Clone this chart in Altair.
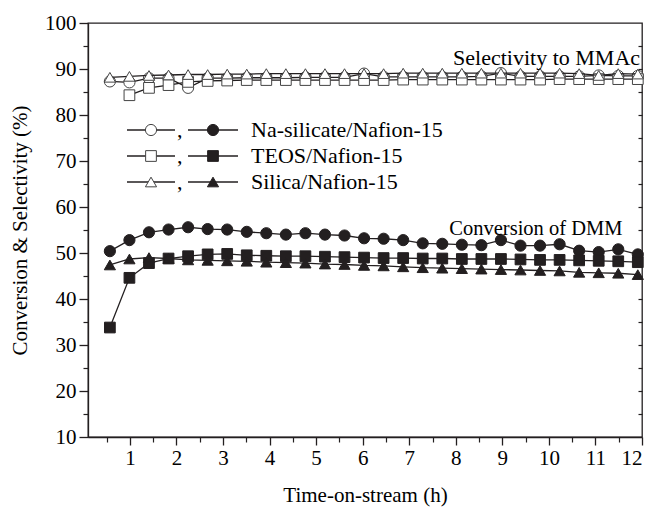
import altair as alt
import pandas as pd

# ---------------- data ----------------
hours = [0.57, 0.99, 1.41, 1.83, 2.25, 2.67, 3.09, 3.51, 3.93, 4.35, 4.77, 5.19,
         5.61, 6.03, 6.45, 6.87, 7.29, 7.71, 8.13, 8.55, 8.97, 9.39, 9.81, 10.23,
         10.65, 11.07, 11.49, 11.91]

na_conv = [50.4, 52.8, 54.5, 55.1, 55.6, 55.2, 55.1, 54.6, 54.3, 54.0, 54.3, 54.0,
           53.8, 53.2, 53.1, 52.8, 52.1, 52.0, 51.8, 51.7, 52.8, 51.6, 51.6, 51.9,
           50.5, 50.2, 50.8, 49.7]
teos_conv = [33.8, 44.6, 47.8, 48.8, 49.3, 49.7, 49.8, 49.5, 49.4, 49.3, 49.3, 49.2,
             49.1, 49.0, 48.9, 48.9, 48.8, 48.8, 48.7, 48.7, 48.7, 48.6, 48.5, 48.5,
             48.4, 48.3, 48.2, 48.0]
silica_conv = [47.4, 48.7, 49.0, 48.8, 48.5, 48.4, 48.3, 48.2, 48.0, 47.9, 47.8, 47.6,
               47.5, 47.3, 47.2, 47.0, 46.8, 46.7, 46.6, 46.5, 46.4, 46.3, 46.2, 46.1,
               45.8, 45.7, 45.6, 45.3]

na_sel = [87.3, 87.1, 88.0, 88.0, 85.9, 88.0, 88.0, 88.1, 88.1, 88.1, 88.2, 88.2,
          88.2, 89.0, 88.3, 88.3, 88.3, 88.3, 88.3, 88.4, 89.1, 88.4, 88.4, 88.4,
          88.4, 88.6, 88.5, 88.5]
teos_sel = [None, 84.3, 85.9, 86.5, 87.2, 87.4, 87.5, 87.6, 87.6, 87.6, 87.6, 87.6,
            87.6, 87.6, 87.6, 87.7, 87.7, 87.7, 87.7, 87.7, 87.7, 87.7, 87.7, 87.8,
            87.8, 87.8, 87.8, 87.8]
silica_sel = [88.2, 88.4, 88.6, 88.7, 88.8, 88.8, 88.9, 88.9, 89.0, 89.0, 89.0, 89.0,
              89.0, 89.0, 89.0, 89.1, 89.1, 89.1, 89.1, 89.1, 89.1, 89.1, 89.1, 89.1,
              89.0, 88.6, 89.0, 88.9]

legend_labels = ["Na-silicate/Nafion-15", "TEOS/Nafion-15", "Silica/Nafion-15"]
annotations = ["Selectivity to MMAc", "Conversion of DMM"]
x_major = list(range(1, 13))
x_minor = [i + 0.5 for i in range(0, 12)]
y_major = list(range(10, 101, 10))
y_minor = list(range(15, 100, 10))
y_right = list(range(15, 100, 5))

# ---------------- style ----------------
W, H = 554, 414
INK = "#231f20"
FONT = "Liberation Serif"
shapes = {"na": "circle", "teos": "square", "silica": "triangle-up"}
sizes = {"circle": 125, "square": 115, "triangle-up": 125}

xs = alt.Scale(domain=[0.1, 12], nice=False, zero=False)
ys = alt.Scale(domain=[10, 100], nice=False, zero=False)

series = [
    ("na", "conv", na_conv, True),
    ("teos", "conv", teos_conv, True),
    ("silica", "conv", silica_conv, True),
    ("na", "sel", na_sel, False),
    ("teos", "sel", teos_sel, False),
    ("silica", "sel", silica_sel, False),
]

layers = []
for key, kind, vals, filled in series:
    df = pd.DataFrame({"t": hours, "v": vals}).dropna()
    base = alt.Chart(df).encode(
        x=alt.X("t:Q", scale=xs, axis=None),
        y=alt.Y("v:Q", scale=ys, axis=None),
    )
    layers.append(base.mark_line(color=INK, strokeWidth=1.3))
    shp = shapes[key]
    layers.append(base.mark_point(
        shape=shp, size=sizes[shp], filled=True, opacity=1,
        fill=INK if filled else "white", stroke=INK if filled else "#444",
        strokeWidth=1.0))

# ---------------- axes (drawn by invisible layers) ----------------
axdf = pd.DataFrame({"t": [1.0], "v": [50.0]})
common = dict(labelFont=FONT, titleFont=FONT, labelColor="black", titleColor="black",
              tickColor=INK, domainColor=INK, grid=False, titleFontWeight="normal")

def axis_layer(xaxis, yaxis):
    return alt.Chart(axdf).mark_point(opacity=0).encode(
        x=alt.X("t:Q", scale=xs, axis=xaxis),
        y=alt.Y("v:Q", scale=ys, axis=yaxis),
    )

layers.append(axis_layer(
    alt.Axis(orient="bottom", values=x_major, tickSize=8, tickWidth=1.3, domainWidth=1.3,
             labelFontSize=21, labelPadding=2, title="Time-on-stream (h)",
             titleFontSize=21, titlePadding=16, format="d", **common),
    alt.Axis(orient="left", values=y_major, tickSize=9, tickWidth=1.3, domainWidth=1.3,
             labelFontSize=21, labelPadding=3, title="Conversion & Selectivity (%)",
             titleFontSize=21, titlePadding=14, format="d", **common),
))
layers.append(axis_layer(
    alt.Axis(orient="bottom", values=x_minor, tickSize=5, tickWidth=1.2, labels=False,
             domain=False, title=None, **common),
    alt.Axis(orient="left", values=y_minor, tickSize=5, tickWidth=1.2, labels=False,
             domain=False, title=None, **common),
))
layers.append(axis_layer(
    None,
    alt.Axis(orient="left", offset=-W, values=y_right, tickSize=4, tickWidth=1.2,
             labels=False, domain=False, title=None, **common),
))

# ---------------- annotations ----------------
ann_sel = pd.DataFrame({"t": [9.95], "v": [92.3], "label": [annotations[0]]})
ann_conv = pd.DataFrame({"t": [9.72], "v": [55.3], "label": [annotations[1]]})
for adf, fs in [(ann_sel, 22), (ann_conv, 20.5)]:
    layers.append(alt.Chart(adf).mark_text(font=FONT, fontSize=fs, color="black",
                                           align="center", baseline="middle").encode(
        x=alt.X("t:Q", scale=xs, axis=None),
        y=alt.Y("v:Q", scale=ys, axis=None),
        text="label:N",
    ))

# ---------------- legend (drawn in plot pixel space) ----------------
one = pd.DataFrame({"a": [0]})
keys = ["na", "teos", "silica"]
row_y = [107, 133, 159]
for i, key in enumerate(keys):
    yy = row_y[i]
    shp = shapes[key]
    for (x1, x2, xm, filled) in [(39, 87, 63, False), (100, 150, 125, True)]:
        layers.append(alt.Chart(one).mark_rule(color=INK, strokeWidth=1.3).encode(
            x=alt.value(x1), x2=alt.value(x2), y=alt.value(yy)))
        layers.append(alt.Chart(one).mark_point(
            shape=shp, size=sizes[shp], filled=True, opacity=1,
            fill=INK if filled else "white", stroke=INK if filled else "#444",
            strokeWidth=1.0).encode(x=alt.value(xm), y=alt.value(yy)))
    layers.append(alt.Chart(one).mark_text(font=FONT, fontSize=22, color="black",
                                           align="left", baseline="alphabetic").encode(
        x=alt.value(89), y=alt.value(yy + 7), text=alt.value(",")))
    layers.append(alt.Chart(one).mark_text(font=FONT, fontSize=22, color="black",
                                           align="left", baseline="alphabetic").encode(
        x=alt.value(163), y=alt.value(yy + 7), text=alt.value(legend_labels[i])))

chart = alt.layer(*layers).resolve_axis(x="independent", y="independent").properties(
    width=W, height=H,
    autosize=alt.AutoSizeParams(type="none"),
    padding={"left": 88, "top": 23, "right": 24, "bottom": 76},
    background="white",
).configure_view(stroke=INK, strokeWidth=1.3)

chart.save("out.html", embed_options={"renderer": "svg", "actions": False})
